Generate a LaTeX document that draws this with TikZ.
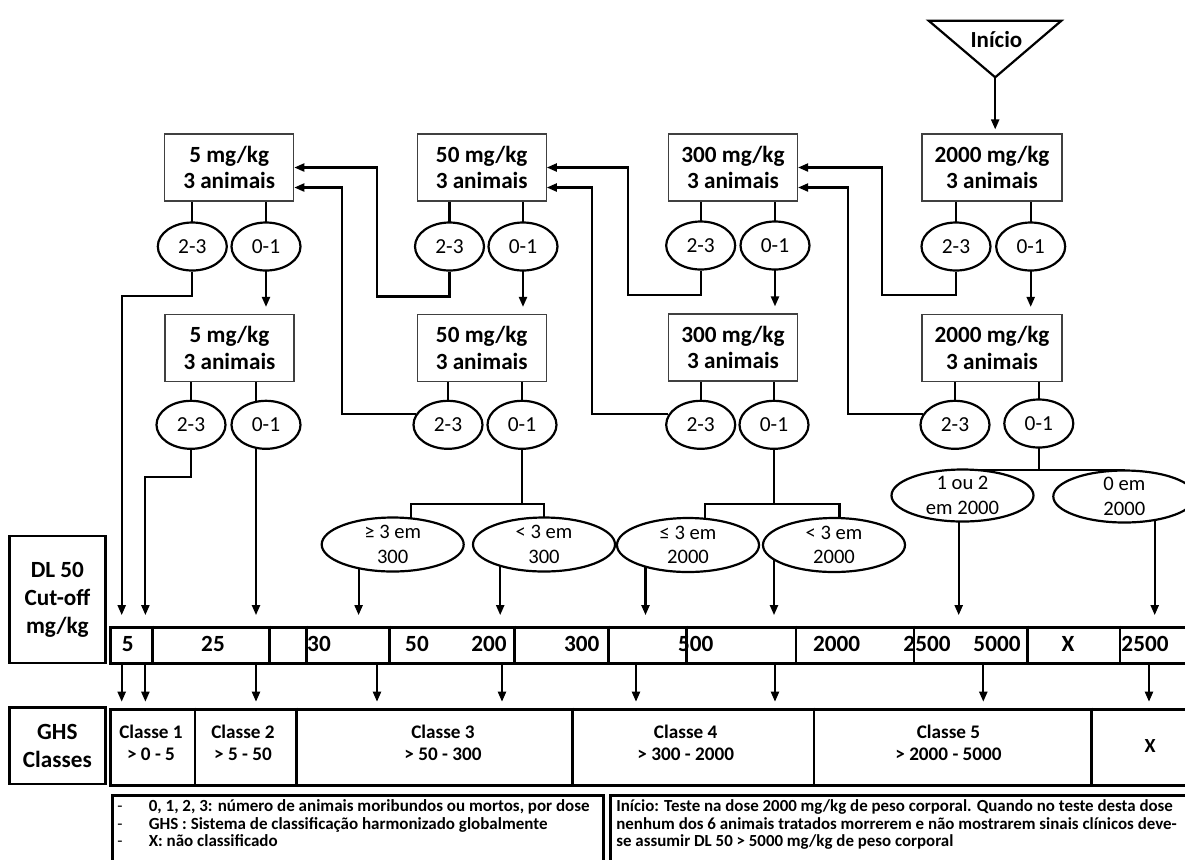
\documentclass[tikz,border=0pt]{standalone}
\usepackage{fontspec}
\setmainfont{Carlito}
\usetikzlibrary{arrows.meta, shapes.geometric, backgrounds}

\begin{document}
\begin{tikzpicture}[x=0.5pt, y=-0.5pt,
        dose/.style={rectangle, draw=black!75, line width=0.6pt, fill=white, minimum width=64.5pt, minimum height=33.5pt, inner sep=0pt, align=center, font=\bfseries\fontsize{11.6}{13.3}\selectfont},
        res/.style={ellipse, draw, line width=1.1pt, fill=white, minimum width=34.5pt, minimum height=24pt, inner sep=0pt, font=\fontsize{10.7}{12}\selectfont},
        outc/.style={ellipse, draw, line width=1.1pt, fill=white, minimum width=71pt, minimum height=27pt, inner xsep=0pt, inner ysep=-3pt, align=center, font=\fontsize{10.3}{12.2}\selectfont},
        tbl/.style={draw, line width=1.4pt},
        lbl/.style={draw, line width=1.4pt, minimum width=47.8pt, inner sep=0pt, align=center, font=\bfseries\fontsize{11.6}{14}\selectfont},
        val/.style={inner sep=0pt, font=\bfseries\fontsize{11.6}{13.3}\selectfont},
        cls/.style={inner sep=0pt, align=center, font=\bfseries\fontsize{9.6}{11.15}\selectfont},
        note/.style={inner sep=0pt, anchor=base west, font=\bfseries\fontsize{8.45}{9}\selectfont},
        link/.style={line width=1.05pt},
        arr/.style={link, -{Triangle[length=5pt, width=4pt]}}]
        \useasboundingbox (0,0) rectangle (1185,859);

        \coordinate (apex) at (995.2,77.3);
        \draw[line width=1.1pt] (928.7,20.7) -- (1061.4,20.7) -- (apex) -- cycle;
        \node[font=\bfseries\fontsize{11.5}{13}\selectfont] (start) at (996.4,40) {Início};

        \node[dose] (d5a) at (229.2,167.5) {5 mg/kg\\3 animais};
        \node[dose] (d50a) at (481.7,167.5) {50 mg/kg\\3 animais};
        \node[dose] (d300a) at (733,167.5) {300 mg/kg\\3 animais};
        \node[dose, minimum width=70pt] (d2000a) at (992,167.5) {2000 mg/kg\\3 animais};
        \node[dose] (d5b) at (229.5,348) {5 mg/kg\\3 animais};
        \node[dose] (d50b) at (481.7,348) {50 mg/kg\\3 animais};
        \node[dose] (d300b) at (733,347.5) {300 mg/kg\\3 animais};
        \node[dose, minimum width=70pt] (d2000b) at (992,348) {2000 mg/kg\\3 animais};

        \node[res] (e5a23) at (192.3,246.5) {2-3};
        \node[res] (e5a01) at (266,246.5) {0-1};
        \node[res] (e50a23) at (449.5,246.5) {2-3};
        \node[res] (e50a01) at (523,246.5) {0-1};
        \node[res] (e300a23) at (700.7,245.5) {2-3};
        \node[res] (e300a01) at (775,245.5) {0-1};
        \node[res] (e2000a23) at (956,246.5) {2-3};
        \node[res] (e2000a01) at (1030.7,246.5) {0-1};
        \node[res] (e5b23) at (191,424.8) {2-3};
        \node[res] (e5b01) at (266,424.8) {0-1};
        \node[res] (e50b23) at (448,424.8) {2-3};
        \node[res] (e50b01) at (522,424.8) {0-1};
        \node[res] (e300b23) at (700.7,424.8) {2-3};
        \node[res] (e300b01) at (774,424.8) {0-1};
        \node[res] (e2000b23) at (955,424.8) {2-3};
        \node[res] (e2000b01) at (1038.8,423.5) {0-1};

        \node[outc] (g300) at (392.7,544.5) {≥ 3 em\\300};
        \node[outc] (l300) at (544,544.5) {< 3 em\\300};
        \node[outc] (g2000) at (688,545) {≤ 3 em\\2000};
        \node[outc] (l2000) at (834,545) {< 3 em\\2000};
        \node[outc, minimum height=26pt] (o12) at (962.5,495.5) {1 ou 2\\em 2000};
        \node[outc, minimum height=26pt] (z2000) at (1124.3,496.5) {0 em\\2000};

        \node[lbl, minimum height=63.5pt] (dl) at (57.4,599.5) {\raisebox{-1.5pt}{\parbox{45pt}{\centering DL 50\\Cut-off\\mg/kg}}};
        \node[lbl, minimum height=38.15pt] (ghsl) at (57.4,745.9) {GHS\\Classes};

        \node[tbl, minimum width=545pt, minimum height=18pt, inner sep=0pt, anchor=north west] (cut) at (109,625.7) {};
        \node[tbl, minimum width=545pt, minimum height=38.15pt, inner sep=0pt, anchor=north west] (ghs) at (109,707.7) {};

        \foreach \t/\x [count=\n] in {5/127.7, 25/213, 30/319, 50/417, 200/489, 300/581.7, 500/695.8, 2000/836.7, 2500/927, 5000/997, X/1068, 2500/1145}
            \node[val] (v\n) at (\x,643.7) {\t};
        \foreach \x in {152.7, 269.3, 306.7, 389.3, 514.3, 608.3, 686.7, 796, 914, 1027.3, 1120}
            \draw[tbl] (\x,625.7) -- (\x,661.7);
        \foreach \x in {195, 296.7, 572.3, 814, 1091.7}
            \draw[tbl] (\x,707.7) -- (\x,784);

        \node[cls] (k1) at (151,742.9) {Classe 1\\> 0 - 5};
        \node[cls] (k2) at (243,742.9) {Classe 2\\> 5 - 50};
        \node[cls] (k3) at (443,742.9) {Classe 3\\> 50 - 300};
        \node[cls] (k4) at (685.7,742.9) {Classe 4\\> 300 - 2000};
        \node[cls] (k5) at (948.5,742.9) {Classe 5\\> 2000 - 5000};
        \node[cls, font=\bfseries\fontsize{10}{12}\selectfont] (k6) at (1150,745.9) {X};

        \node[tbl, minimum width=245.5pt, minimum height=45pt, inner sep=0pt, anchor=north west] (notel) at (111,794) {};
        \node[tbl, minimum width=296pt, minimum height=45pt, inner sep=0pt, anchor=north west] (noter) at (609,794) {};
        \node[note, font=\fontsize{8.5}{9}\selectfont] (m1) at (117,811.5) {\makebox[15.7pt][l]{-}\textbf{0, 1, 2, 3: número de animais moribundos ou mortos, por dose}};
        \node[note, font=\fontsize{8.5}{9}\selectfont] (m2) at (117,829) {\makebox[15.7pt][l]{-}\textbf{GHS : Sistema de classificação harmonizado globalmente}};
        \node[note, font=\fontsize{8.5}{9}\selectfont] (m3) at (117,846.5) {\makebox[15.7pt][l]{-}\textbf{X: não classificado}};
        \node[note] (n1) at (616,811.5) {Início: Teste na dose 2000 mg/kg de peso corporal. Quando no teste desta dose};
        \node[note] (n2) at (616,829) {nenhum dos 6 animais tratados morrerem e não mostrarem sinais clínicos deve-};
        \node[note] (n3) at (616,846.5) {se assumir DL 50 > 5000 mg/kg de peso corporal};

        \foreach \x [count=\n] in {121.7, 145.4, 256, 358.6, 500.2, 645.5, 774, 958.7, 1154.7}
            \coordinate (a\n) at (\x,615);
        \foreach \x [count=\n] in {121.7, 145.4, 256, 377, 502, 636, 775, 983.3, 1149}
            \coordinate (b\n) at (\x,700);
        \coordinate (j1) at (522,504.3);
        \coordinate (j2) at (774,504.3);
        \coordinate (j3) at (1038.8,470);

        \begin{scope}[on background layer]
            \fill[white] (0,0) rectangle (1185,859);
            \draw[arr, shorten >=2pt] (apex) -- (d2000a.north -| apex);
            \foreach \bo/\el in {d5a/e5a23, d5a/e5a01, d50a/e50a23, d50a/e50a01, d300a/e300a23, d300a/e300a01, d2000a/e2000a23, d2000a/e2000a01, d5b/e5b23, d50b/e50b23, d50b/e50b01, d300b/e300b23, d300b/e300b01, d2000b/e2000b23, d2000b/e2000b01}
                \draw[link] (\bo.south -| \el.center) -- (\el.center);
            \draw[link] (d5b.south -| a3) -- (e5b01.center -| a3);
            \foreach \el/\bo in {e5a01/d5b, e50a01/d50b, e300a01/d300b, e2000a01/d2000b}
                \draw[arr, shorten >=3.5pt] (\el.center) -- (\bo.north -| \el.center);

            \draw[arr] (e50a23.south) |- (376.7,296.5) |- (d5a.east);
            \draw[arr] (e50b23.162) -| (341.7,300) |- ([yshift=-10pt]d5a.east);
            \draw[arr] (e300a23.south) |- (627.8,295) |- (d50a.east);
            \draw[arr] (e300b23.162) -| (591.9,300) |- ([yshift=-10pt]d50a.east);
            \draw[arr] (e2000a23.south) |- (881.6,295) |- (d300a.east);
            \draw[arr] (e2000b23.162) -| (848,300) |- ([yshift=-10pt]d300a.east);

            \draw[link] (e50b01.center) -- (j1);
            \draw[link] ([xshift=9.35pt]g300.center) |- (j1) -| (l300.center);
            \draw[link] (e300b01.center) -- (j2);
            \draw[link] ([xshift=8.4pt]g2000.center) |- (j2) -| ([xshift=2.75pt]l2000.center);
            \draw[link] (e2000b01.center) -- (j3);
            \draw[link] (o12.center) |- (j3) -| (z2000.center);

            \draw[arr, shorten >=5.3pt] (e5a23.south) -- ++(0,24) -| (cut.north -| a1);
            \draw[arr, shorten >=5.3pt] (e5b23.south) -- ++(0,27) -| (cut.north -| a2);
            \draw[arr, shorten >=5.3pt] (e5b01.center -| a3) -- (cut.north -| a3);
            \draw[arr, shorten >=5.3pt] (g300.center -| a4) -- (cut.north -| a4);
            \draw[arr, shorten >=5.3pt] (l300.center -| a5) -- (cut.north -| a5);
            \draw[arr, shorten >=5.3pt] (g2000.center -| a6) -- (cut.north -| a6);
            \draw[arr, shorten >=5.3pt] (l2000.center -| a7) -- (cut.north -| a7);
            \draw[arr, shorten >=5.3pt] (o12.center -| a8) -- (cut.north -| a8);
            \draw[arr, shorten >=5.3pt] (z2000.center -| a9) -- (cut.north -| a9);
            \foreach \n in {1,...,9}
                \draw[arr, shorten >=3pt] (cut.south -| b\n) -- (ghs.north -| b\n);
        \end{scope}
    \end{tikzpicture}
\end{document}
